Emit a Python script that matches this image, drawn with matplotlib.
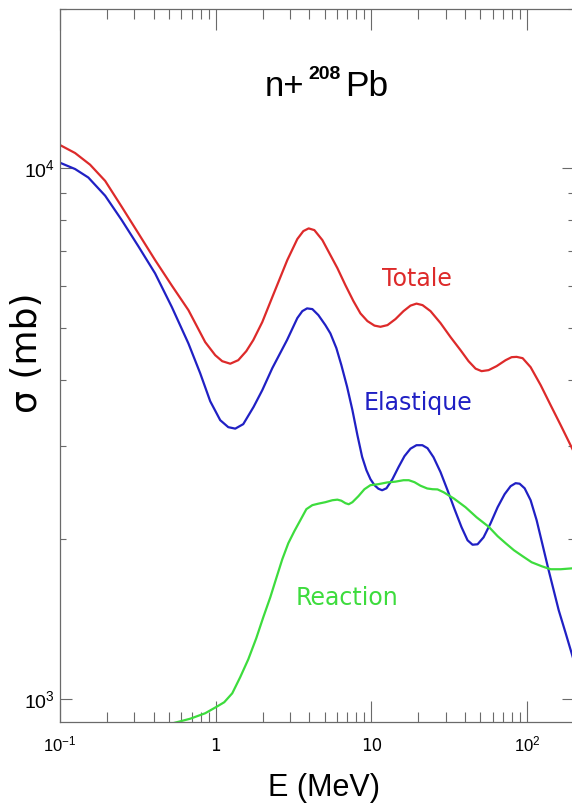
import matplotlib
matplotlib.use("Agg")
import matplotlib.pyplot as plt
from matplotlib.ticker import FixedLocator, FixedFormatter, LogLocator, NullFormatter

plt.rcParams['mathtext.fontset'] = 'custom'
plt.rcParams['mathtext.rm'] = 'Liberation Sans'
plt.rcParams['mathtext.it'] = 'Liberation Sans:italic'
plt.rcParams['mathtext.bf'] = 'Liberation Sans:bold'

# ---- data ----
E_tot = [0.1, 0.125, 0.156, 0.195, 0.249, 0.318, 0.408, 0.523, 0.668, 0.856, 0.993,
         1.101, 1.240, 1.396, 1.571, 1.743, 1.991, 2.309, 2.883, 3.343, 3.654, 3.953,
         4.301, 4.841, 5.451, 6.045, 6.806, 7.663, 8.504, 9.426, 10.46, 11.43, 12.68,
         14.27, 16.07, 17.82, 19.47, 21.29, 23.96, 27.79, 32.22, 37.35, 42.06, 46.67,
         50.99, 56.55, 63.68, 72.75, 79.50, 85.61, 93.57, 105.3, 122.2, 141.6, 164.3, 200]
sig_tot = [11064, 10687, 10160, 9470, 8465, 7550, 6717, 6011, 5405, 4705, 4445,
           4331, 4284, 4350, 4523, 4746, 5132, 5719, 6717, 7358, 7616, 7706,
           7649, 7326, 6864, 6486, 6024, 5621, 5328, 5154, 5054, 5028, 5065,
           5199, 5382, 5512, 5560, 5524, 5382, 5109, 4808, 4543, 4331, 4193,
           4148, 4166, 4239, 4350, 4407, 4413, 4388, 4220, 3903, 3578, 3281, 2918]

E_el = [0.1, 0.125, 0.152, 0.195, 0.249, 0.318, 0.408, 0.523, 0.668, 0.795, 0.922,
        1.069, 1.204, 1.335, 1.503, 1.751, 1.991, 2.309, 2.870, 3.343, 3.600, 3.861,
        4.175, 4.563, 5.061, 5.451, 5.956, 6.413, 6.979, 7.551, 8.129, 8.715, 9.287,
        9.855, 10.46, 11.09, 11.72, 12.49, 13.65, 14.92, 16.30, 17.82, 19.47, 21.23,
        22.92, 25.05, 27.79, 30.82, 34.18, 37.92, 41.44, 44.62, 48.06, 52.52, 58.27,
        64.63, 71.68, 78.33, 84.35, 89.49, 96.38, 105.3, 115.1, 125.8, 137.5, 148.1,
        159.5, 176.9, 200]
sig_el = [10246, 9970, 9610, 8880, 7990, 7137, 6340, 5476, 4677, 4110, 3640,
          3353, 3253, 3232, 3296, 3552, 3819, 4202, 4746, 5222, 5382, 5446,
          5429, 5290, 5065, 4886, 4583, 4257, 3875, 3502, 3142, 2860, 2699,
          2596, 2529, 2490, 2474, 2495, 2596, 2734, 2868, 2963, 3008, 3008,
          2969, 2855, 2676, 2474, 2279, 2107, 1991, 1953, 1957, 2017, 2144,
          2298, 2432, 2518, 2551, 2545, 2495, 2369, 2172, 1949, 1748, 1603,
          1470, 1330, 1178]

E_re = [0.500, 0.686, 0.856, 1.008, 1.134, 1.277, 1.438, 1.619, 1.822, 2.021, 2.242,
        2.449, 2.677, 2.926, 3.198, 3.495, 3.821, 4.175, 4.563, 5.061, 5.614, 6.045,
        6.413, 6.806, 7.146, 7.551, 8.250, 9.018, 9.855, 11.09, 12.61, 14.27, 16.07,
        17.38, 18.91, 20.66, 22.82, 24.69, 26.58, 29.05, 33.82, 40.23, 47.36, 56.78,
        64.63, 72.75, 82.26, 93.57, 106.9, 124.0, 141.6, 164.3, 200]
sig_re = [896, 918, 940, 966, 986, 1025, 1100, 1188, 1302, 1426, 1555,
          1689, 1834, 1966, 2071, 2172, 2279, 2319, 2334, 2349, 2369, 2375,
          2364, 2339, 2328, 2349, 2411, 2485, 2529, 2540, 2559, 2568, 2584,
          2584, 2562, 2523, 2493, 2485, 2483, 2453, 2387, 2298, 2200, 2110,
          2027, 1966, 1907, 1858, 1810, 1779, 1756, 1756, 1764]

xtick_vals = [0.1, 1, 10, 100]
xtick_labels = [r'$10^{-1}$', '1', '10', r'$10^{2}$']
ytick_vals = [1000, 10000]
ytick_labels = [r'$10^{3}$', r'$10^{4}$']

RED = '#dd2a2a'
BLUE = '#2020c4'
GREEN = '#3ddc3d'
GREY = '#6a6a6a'

fig = plt.figure(figsize=(5.72, 8.07), dpi=100)
ax = fig.add_axes([60/572, 1-722/807, 514/572, (722-8.6)/807])
ax.set_xscale('log')
ax.set_yscale('log')

ax.plot(E_tot, sig_tot, color=RED, lw=1.6, solid_joinstyle='round')
ax.plot(E_el, sig_el, color=BLUE, lw=1.6, solid_joinstyle='round')
ax.plot(E_re, sig_re, color=GREEN, lw=1.6, solid_joinstyle='round')

ax.set_xlim(0.1, 200)
ax.set_ylim(905, 20000)

ax.xaxis.set_major_locator(FixedLocator(xtick_vals))
ax.xaxis.set_major_formatter(FixedFormatter(xtick_labels))
ax.xaxis.set_minor_locator(LogLocator(base=10, subs=[2, 3, 4, 5, 6, 7, 8, 9], numticks=20))
ax.xaxis.set_minor_formatter(NullFormatter())
ax.yaxis.set_major_locator(FixedLocator(ytick_vals))
ax.yaxis.set_major_formatter(FixedFormatter(ytick_labels))
ax.yaxis.set_minor_locator(LogLocator(base=10, subs=[2, 3, 4, 5, 6, 7, 8, 9], numticks=20))
ax.yaxis.set_minor_formatter(NullFormatter())

for s in ax.spines.values():
    s.set_color(GREY)
    s.set_linewidth(0.9)

ax.tick_params(axis='x', which='major', direction='in', length=15, width=0.8, color=GREY,
               top=True, bottom=True, labelsize=12, pad=21, labelcolor='black')
ax.tick_params(axis='x', which='minor', direction='in', length=7.2, width=0.8, color=GREY,
               top=True, bottom=True)
ax.tick_params(axis='y', which='major', direction='in', length=8.6, width=0.8, color=GREY,
               left=True, right=True, labelsize=14, pad=3.5, labelcolor='black')
ax.tick_params(axis='y', which='minor', direction='in', length=4.3, width=0.8, color=GREY,
               left=True, right=True)
for lab in ax.get_xticklabels():
    lab.set_verticalalignment('baseline')

ax.set_xlabel('E (MeV)', fontsize=22, family='Liberation Sans', va='baseline')
ax.xaxis.set_label_coords((324-60)/514, -(796-722)/713.4)
ax.set_ylabel('σ (mb)', fontsize=26, family='DejaVu Sans', va='center')
ax.yaxis.set_label_coords((27-60)/514, (722-353)/713.4)

# title n+208Pb
t1 = ax.text((265-60)/514, (722-103)/713.4, 'n+', transform=ax.transAxes,
             fontsize=25, family='Liberation Sans', ha='left', va='bottom')
t2 = ax.annotate('208', xy=(1, 0), xycoords=t1, xytext=(3, 14.5), textcoords='offset points',
                 fontsize=14, family='Liberation Sans', weight='bold', ha='left', va='bottom')
t3 = ax.annotate('Pb', xy=(1, 0), xycoords=(t2, t1), xytext=(3, 0), textcoords='offset points',
                 fontsize=25.5, family='Liberation Sans', ha='left', va='bottom')

# curve labels
ax.text(11.72, 6000, 'Totale', color=RED, fontsize=17, family='DejaVu Sans', va='baseline')
ax.text(8.92, 3499, 'Elastique', color=BLUE, fontsize=17, family='DejaVu Sans', va='baseline')
ax.text(3.245, 1502, 'Reaction', color=GREEN, fontsize=17, family='DejaVu Sans', va='baseline')

fig.savefig('out.png', dpi=100)
